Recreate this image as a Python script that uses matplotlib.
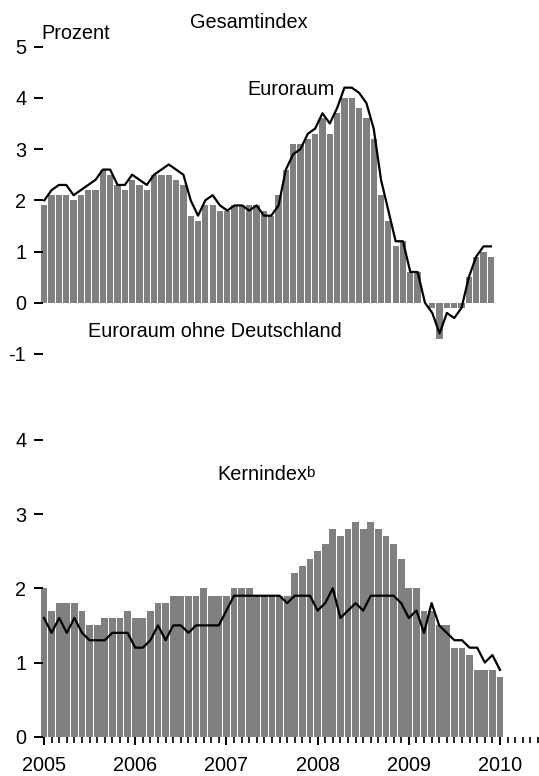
import numpy as np
import matplotlib
matplotlib.use("Agg")
import matplotlib.pyplot as plt
from matplotlib.ticker import FixedLocator, NullFormatter

plt.rcParams['font.family'] = ['Liberation Sans', 'DejaVu Sans']

# ---------------- data ----------------
# Top panel: Gesamtindex (monthly, Jan 2005 - Feb 2010)
top_bars = [1.9, 2.1, 2.1, 2.1, 2.0, 2.1, 2.2, 2.2, 2.6, 2.5, 2.3, 2.2,
            2.4, 2.3, 2.2, 2.5, 2.5, 2.5, 2.4, 2.3, 1.7, 1.6, 1.9, 1.9,
            1.8, 1.8, 1.9, 1.9, 1.9, 1.9, 1.8, 1.7, 2.1, 2.6, 3.1, 3.1,
            3.2, 3.3, 3.6, 3.3, 3.7, 4.0, 4.0, 3.8, 3.6, 3.2, 2.1, 1.6,
            1.1, 1.2, 0.6, 0.6, 0.0, -0.1, -0.7, -0.1, -0.1, -0.1, 0.5, 0.9,
            1.0, 0.9]
top_line = [2.0, 2.2, 2.3, 2.3, 2.1, 2.2, 2.3, 2.4, 2.6, 2.6, 2.3, 2.3,
            2.5, 2.4, 2.3, 2.5, 2.6, 2.7, 2.6, 2.5, 2.0, 1.7, 2.0, 2.1,
            1.9, 1.8, 1.9, 1.9, 1.8, 1.9, 1.7, 1.7, 1.9, 2.6, 2.9, 3.0,
            3.3, 3.4, 3.7, 3.5, 3.8, 4.2, 4.2, 4.1, 3.9, 3.4, 2.4, 1.8,
            1.2, 1.2, 0.6, 0.6, 0.0, -0.2, -0.6, -0.2, -0.3, -0.1, 0.5, 0.9,
            1.1, 1.1]

# Bottom panel: Kernindex (monthly, Jan 2005 - Jan 2010)
bot_bars = [2.0, 1.7, 1.8, 1.8, 1.8, 1.7, 1.5, 1.5, 1.6, 1.6, 1.6, 1.7,
            1.6, 1.6, 1.7, 1.8, 1.8, 1.9, 1.9, 1.9, 1.9, 2.0, 1.9, 1.9,
            1.9, 2.0, 2.0, 2.0, 1.9, 1.9, 1.9, 1.9, 1.9, 2.2, 2.3, 2.4,
            2.5, 2.6, 2.8, 2.7, 2.8, 2.9, 2.8, 2.9, 2.8, 2.7, 2.6, 2.4,
            2.0, 2.0, 1.7, 1.7, 1.5, 1.5, 1.2, 1.2, 1.1, 0.9, 0.9, 0.9,
            0.8]
bot_line = [1.6, 1.4, 1.6, 1.4, 1.6, 1.4, 1.3, 1.3, 1.3, 1.4, 1.4, 1.4,
            1.2, 1.2, 1.3, 1.5, 1.3, 1.5, 1.5, 1.4, 1.5, 1.5, 1.5, 1.5,
            1.7, 1.9, 1.9, 1.9, 1.9, 1.9, 1.9, 1.9, 1.8, 1.9, 1.9, 1.9,
            1.7, 1.8, 2.0, 1.6, 1.7, 1.8, 1.7, 1.9, 1.9, 1.9, 1.9, 1.8,
            1.6, 1.7, 1.4, 1.8, 1.5, 1.4, 1.3, 1.3, 1.2, 1.2, 1.0, 1.1,
            0.9]

year_labels = ['2005', '2006', '2007', '2008', '2009', '2010']
top_yticks = [-1, 0, 1, 2, 3, 4, 5]
bot_yticks = [0, 1, 2, 3, 4]

# ---------------- layout ----------------
W, H = 539, 776
fig = plt.figure(figsize=(W / 100, H / 100), dpi=100)

def px_axes(x0, x1, y_top, y_bot):
    return [x0 / W, 1 - y_bot / H, (x1 - x0) / W, (y_bot - y_top) / H]

BAR = '#808080'
TXT = 14.3

# top axes: value v -> px 302.7 - 51.2 v ; index i -> px 44.3 + 7.32 i
ax1 = fig.add_axes(px_axes(42.7, 539, 302.7 - 51.2 * 5.3, 302.7 + 51.2 * 1.2))
ax1.set_ylim(-1.2, 5.3)
ax1.set_xlim((42.7 - 44.3) / 7.32, (539 - 44.3) / 7.32)
x1 = np.arange(len(top_bars))
ax1.bar(x1, top_bars, width=0.86, color=BAR, linewidth=0, clip_on=False)
ax1.plot(np.arange(len(top_line)), top_line, color='black', lw=1.6, clip_on=False)

# bottom axes: value v -> px 736.7 - 74.2 v ; index i -> px 44 + 7.6 i
ax2 = fig.add_axes(px_axes(42.7, 539, 736.7 - 74.2 * 4.3, 736.7))
ax2.set_ylim(0, 4.3)
ax2.set_xlim((42.7 - 44) / 7.6, (539 - 44) / 7.6)
x2 = np.arange(len(bot_bars))
ax2.bar(x2, bot_bars, width=0.88, color=BAR, linewidth=0, clip_on=False)
ax2.plot(np.arange(len(bot_line)), bot_line, color='black', lw=1.6, clip_on=False)

for ax, yt in ((ax1, top_yticks), (ax2, bot_yticks)):
    for s in ax.spines.values():
        s.set_visible(False)
    ax.set_yticks(yt)
    ax.set_yticklabels([str(v) for v in yt])
    ax.tick_params(axis='y', direction='out', length=6.8, width=1.4, pad=5,
                   labelsize=TXT, colors='black')
    ax.patch.set_visible(False)

ax1.set_xticks([])

ax2.xaxis.set_major_locator(FixedLocator([0, 12, 24, 36, 48, 60]))
ax2.set_xticklabels(year_labels)
ax2.xaxis.set_minor_locator(FixedLocator([m for m in range(0, 66) if m % 12 != 0]))
ax2.xaxis.set_minor_formatter(NullFormatter())
ax2.tick_params(axis='x', which='major', direction='out', length=6, width=1.4,
                pad=8, labelsize=TXT)
ax2.tick_params(axis='x', which='minor', direction='out', length=4.5, width=1.2)

def ftext(x, y, s, **kw):
    fig.text(x / W, 1 - y / H, s, fontsize=kw.pop('fontsize', TXT), **kw)

ftext(249, 28, 'Gesamtindex', ha='center', va='baseline')
ftext(41, 39, 'Prozent', ha='left', va='baseline')
ftext(335, 95, 'Euroraum', ha='right', va='baseline')
ftext(215, 337, 'Euroraum ohne Deutschland', ha='center', va='baseline')
ftext(217, 480, 'Kernindex', ha='left', va='baseline')
ftext(306, 477, 'b', ha='left', va='baseline', fontsize=11)

fig.savefig('out.png', dpi=100)
